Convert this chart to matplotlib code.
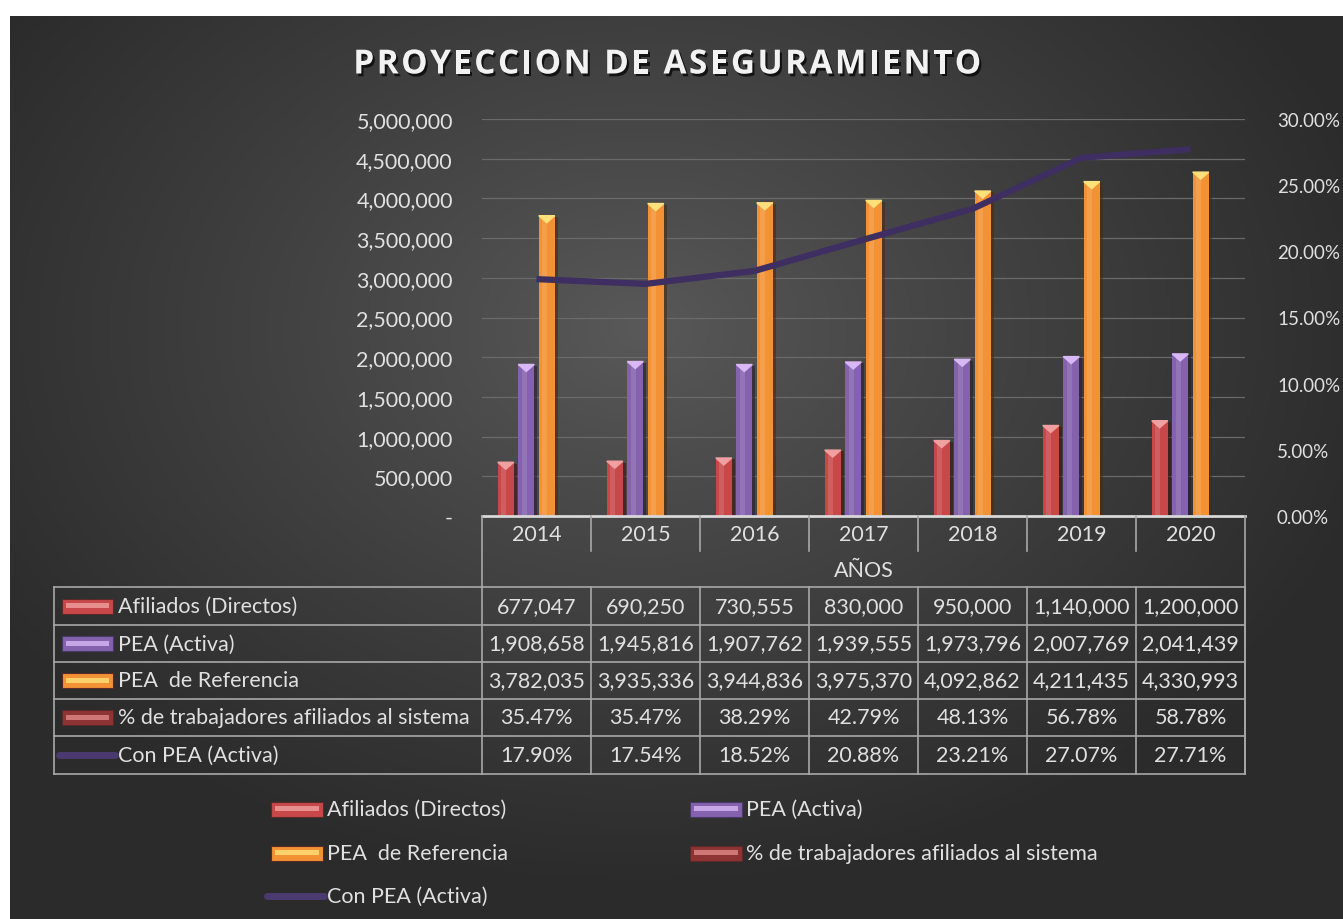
import numpy as np
import matplotlib
matplotlib.use("Agg")
import matplotlib.pyplot as plt
from matplotlib.lines import Line2D
from matplotlib.patches import Rectangle, Polygon
from matplotlib.ticker import FuncFormatter, MultipleLocator
import matplotlib.patheffects as pe

# datos
anios = ["2014", "2015", "2016", "2017", "2018", "2019", "2020"]
afiliados = [677047, 690250, 730555, 830000, 950000, 1140000, 1200000]
pea_activa = [1908658, 1945816, 1907762, 1939555, 1973796, 2007769, 2041439]
pea_ref = [3782035, 3935336, 3944836, 3975370, 4092862, 4211435, 4330993]
pct_afiliados = [0.3547, 0.3547, 0.3829, 0.4279, 0.4813, 0.5678, 0.5878]
con_pea = [0.1790, 0.1754, 0.1852, 0.2088, 0.2321, 0.2707, 0.2771]

series = ["Afiliados (Directos)", "PEA (Activa)", "PEA  de Referencia",
          "% de trabajadores afiliados al sistema", "Con PEA (Activa)"]
titulo = "PROYECCION DE ASEGURAMIENTO"

colores = ["#C8484A", "#8462AE", "#F39234", "#8E3434"]
claros = ["#F0A0A0", "#D9B8F5", "#FFE07A", "#E08888"]
color_linea = "#3E2E62"
texto = "#E0E0E0"

W, H = 1343, 920
AX_L, AX_R, AX_T, AX_B = 482, 1245, 120, 517
fs = 15.5


def fx(px):
    return px / W


def fy(py):
    return 1 - py / H


plt.rcParams['font.family'] = ['Lato', 'DejaVu Sans']
fig = plt.figure(figsize=(W / 100, H / 100), dpi=100, facecolor="white")

# fondo con degradado radial
bg = fig.add_axes([fx(10), 0, fx(W - 10), 1 - 17 / H])
gx, gy = np.meshgrid(np.linspace(10, W, 400), np.linspace(17, H, 300))
r = np.sqrt(((gx - 640) / 760) ** 2 + ((gy - 330) / 560) ** 2)
val = 0.35 - 0.18 * np.clip(r, 0, 1) ** 0.9
bg.imshow(np.dstack([val, val, val]), aspect="auto", extent=(0, 1, 0, 1))
bg.set_axis_off()

ax = fig.add_axes([fx(AX_L), fy(AX_B), fx(AX_R - AX_L), (AX_B - AX_T) / H])
ax.set_facecolor("none")
x = np.arange(len(anios))
paso, ancho = 0.188, 0.147
cap = 7 / (AX_B - AX_T) * 5e6

for k, vals in enumerate([afiliados, pea_activa, pea_ref, pct_afiliados]):
    pos = x + (k - 1.5) * paso
    ax.bar(pos, vals, width=ancho, color=colores[k], zorder=3,
           path_effects=[pe.SimplePatchShadow(offset=(2, -1), alpha=0.6), pe.Normal()])
    ax.bar(pos - ancho * 0.12, vals, width=ancho * 0.3, color="white", alpha=0.12, zorder=4)
    for p, v in zip(pos, vals):
        if v > cap:
            ax.add_patch(Polygon([[p - ancho / 2, v], [p + ancho / 2, v], [p, v - cap]],
                                 closed=True, color=claros[k], zorder=5))

ax.set_xlim(-0.5, len(anios) - 0.5)
ax.set_ylim(0, 5000000)
ax.yaxis.set_major_locator(MultipleLocator(500000))
ax.yaxis.set_major_formatter(FuncFormatter(lambda v, p: "-" if v == 0 else f"{v:,.0f}"))
ax.grid(axis="y", color="#6A6A6A", linewidth=0.9, zorder=0)
ax.set_xticks([])
ax.tick_params(axis="y", length=0, pad=21, labelsize=fs, labelcolor=texto)
for s in ax.spines.values():
    s.set_visible(False)

ax2 = ax.twinx()
ax2.plot(x, con_pea, color=color_linea, linewidth=4.5, zorder=6, solid_capstyle="butt")
ax2.set_ylim(0, 0.30)
ax2.yaxis.set_major_locator(MultipleLocator(0.05))
ax2.yaxis.set_major_formatter(FuncFormatter(lambda v, p: f"{v * 100:.2f}%"))
ax2.tick_params(axis="y", length=0, pad=23, labelsize=13.5, labelcolor=texto)
for s in ax2.spines.values():
    s.set_visible(False)

# titulo con espaciado entre letras
renderer = fig.canvas.get_renderer()
estilo = dict(family=["Open Sans", "DejaVu Sans"], fontweight="bold", fontsize=24,
              color="#F2F2F2", va="center", ha="left")
sombra = [pe.withSimplePatchShadow(offset=(1.5, -2), alpha=0.7, shadow_rgbFace="black")]
tmp = fig.text(0, 0, titulo, **estilo)
ancho_t = tmp.get_window_extent(renderer).width
tmp.remove()
track = 2.4
x0 = 667 - (ancho_t + track * (len(titulo) - 1)) / 2
for i, ch in enumerate(titulo):
    if i > 0:
        t = fig.text(0, 0, titulo[:i], **estilo)
        off = t.get_window_extent(renderer).width
        t.remove()
    else:
        off = 0
    fig.text(fx(x0 + off + track * i), fy(66), ch, path_effects=sombra, **estilo)

# tabla de datos
col_edges = AX_L + np.arange(len(anios) + 1) * (AX_R - AX_L) / len(anios)
filas = [588, 626, 663, 700, 737, 775]
TAB_L = 54
gris = "#A8A8A8"


def linea(xs, ys, c=gris, lw=1.2):
    fig.add_artist(Line2D([fx(v) for v in xs], [fy(v) for v in ys], color=c, linewidth=lw))


linea([AX_L, AX_R], [AX_B, AX_B], c="#D8D8D8", lw=2)
for e in col_edges[1:-1]:
    linea([e, e], [AX_B, 552])
linea([AX_L, AX_L], [AX_B, filas[0]])
linea([AX_R, AX_R], [AX_B, filas[-1]])
for fr in filas:
    linea([TAB_L, AX_R], [fr, fr])
for e in list(col_edges) + [TAB_L]:
    linea([e, e], [filas[0], filas[-1]])

centros = (col_edges[:-1] + col_edges[1:]) / 2
for c, a in zip(centros, anios):
    fig.text(fx(c), fy(535), a, ha="center", va="center", fontsize=fs, color=texto)
fig.text(fx((AX_L + AX_R) / 2), fy(571), "AÑOS", ha="center", va="center", fontsize=fs, color=texto)

valores = [
    [f"{v:,.0f}" for v in afiliados],
    [f"{v:,.0f}" for v in pea_activa],
    [f"{v:,.0f}" for v in pea_ref],
    [f"{v * 100:.2f}%" for v in pct_afiliados],
    [f"{v * 100:.2f}%" for v in con_pea],
]


def marcador(x0, x1, yc, k):
    if k == 4:
        fig.add_artist(Line2D([fx(x0), fx(x1)], [fy(yc), fy(yc)], color="#4A3A70",
                              linewidth=5, solid_capstyle="round"))
        return
    h = 15
    fig.add_artist(Rectangle((fx(x0), fy(yc + h / 2)), fx(x1 - x0), h / H,
                             facecolor=colores[k], edgecolor="#5a2a2a" if k != 1 else "#4a3868",
                             linewidth=0.8))
    fig.add_artist(Rectangle((fx(x0 + 4), fy(yc + 2)), fx(x1 - x0 - 8), 5 / H,
                             facecolor=claros[k], edgecolor="none", alpha=0.8))


for i in range(5):
    yc = (filas[i] + filas[i + 1]) / 2
    marcador(62 if i < 4 else 59, 113 if i < 4 else 115, yc, i)
    fig.text(fx(118), fy(yc), series[i], ha="left", va="center", fontsize=fs, color=texto)
    for c, t in zip(centros, valores[i]):
        fig.text(fx(c), fy(yc), t, ha="center", va="center", fontsize=fs, color=texto)

# leyenda
leyenda = [(271, 810, 0), (690, 810, 1), (271, 854, 2), (690, 854, 3), (267, 897, 4)]
for x0, yc, k in leyenda:
    marcador(x0, x0 + 52 if k < 4 else x0 + 57, yc, k)
    fig.text(fx(x0 + 56 if k < 4 else x0 + 60), fy(yc), series[k], ha="left", va="center",
             fontsize=fs, color=texto)

fig.savefig("out.png", dpi=100, facecolor="white")
